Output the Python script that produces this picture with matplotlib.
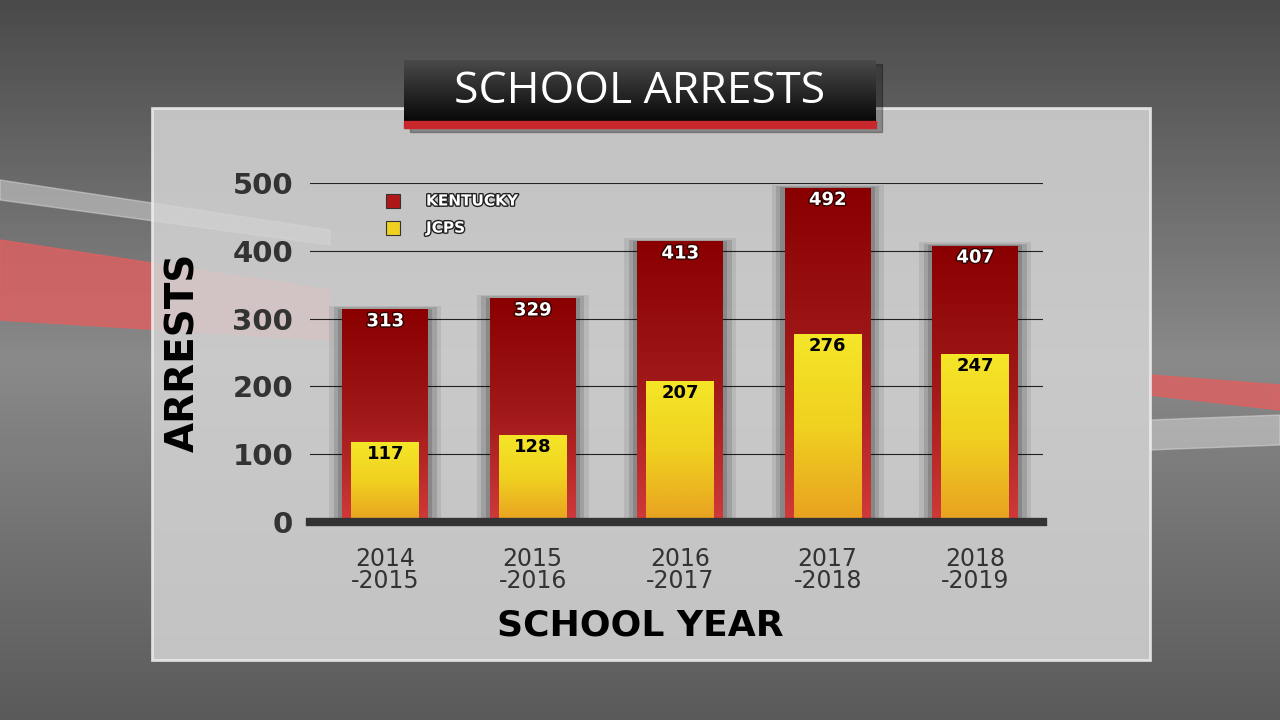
import numpy as np
import matplotlib.pyplot as plt
from matplotlib.patches import Rectangle, Polygon
from matplotlib.colors import LinearSegmentedColormap
import matplotlib.patheffects as pe

years = ["2014\n-2015", "2015\n-2016", "2016\n-2017", "2017\n-2018", "2018\n-2019"]
kentucky = [313, 329, 413, 492, 407]
jcps = [117, 128, 207, 276, 247]
yticks = [0, 100, 200, 300, 400, 500]

fig = plt.figure(figsize=(12.8, 7.2), dpi=100)

# background
bg = fig.add_axes([0, 0, 1, 1])
bg.set_xlim(0, 1280); bg.set_ylim(720, 0); bg.axis("off")
grad = np.linspace(0, 1, 256).reshape(-1, 1)
bg.imshow(grad, extent=[0, 1280, 720, 0], cmap=LinearSegmentedColormap.from_list("b", ["#4a4a4a", "#8a8a8a", "#5a5a5a"]), aspect="auto")
bg.add_patch(Polygon([[0, 240], [330, 290], [330, 340], [0, 320]], color="#e06060", alpha=0.8))
bg.add_patch(Polygon([[1150, 375], [1280, 385], [1280, 410], [1150, 395]], color="#e06060", alpha=0.8))
bg.add_patch(Polygon([[0, 180], [330, 230], [330, 245], [0, 200]], color="#dddddd", alpha=0.5))
bg.add_patch(Polygon([[1150, 420], [1280, 415], [1280, 445], [1150, 450]], color="#dddddd", alpha=0.5))
# panel
bg.add_patch(Rectangle((152, 108), 998, 552, facecolor="#d4d4d4", edgecolor="#eeeeee", lw=2, alpha=0.86))
# title box
bg.add_patch(Rectangle((410, 64), 472, 68, color="black", alpha=0.3))
bg.imshow(grad, extent=[404, 876, 121, 60], cmap=LinearSegmentedColormap.from_list("t", ["#4a4a4a", "#080808"]), aspect="auto", zorder=3)
bg.add_patch(Rectangle((404, 121), 472, 7, color="#c8282c", zorder=4))
bg.text(640, 92, "SCHOOL ARRESTS", color="white", fontsize=32, ha="center", va="center", family="Open Sans", zorder=5)
bg.set_xlim(0, 1280); bg.set_ylim(720, 0)

ax = fig.add_axes([310 / 1280, (720 - 522) / 720, 733 / 1280, 339 / 720])
ax.patch.set_alpha(0)
x = np.arange(len(years))
for s in ax.spines.values():
    s.set_visible(False)
for t in yticks[1:]:
    ax.axhline(t, color="#222222", lw=0.8, zorder=1)
ax.axhline(0, color="#333333", lw=6, zorder=6, clip_on=False)

red = LinearSegmentedColormap.from_list("r", ["#d03a3a", "#a01818", "#8a0000"])
yel = LinearSegmentedColormap.from_list("y", ["#e8a020", "#f0d020", "#f5e628"])
stroke_r = [pe.withStroke(linewidth=2, foreground="#330000")]
kw, jw = 0.58, 0.46
for xi, k, j in zip(x, kentucky, jcps):
    for d, a in [(0.09, 0.08), (0.06, 0.12), (0.03, 0.15)]:
        ax.add_patch(Rectangle((xi - kw / 2 - d, 0), kw + 2 * d, k + d * 60, color="black", alpha=a, zorder=2, lw=0))
    ax.imshow(grad[::-1], extent=[xi - kw / 2, xi + kw / 2, 0, k], cmap=red, aspect="auto", zorder=3)
    ax.imshow(grad[::-1], extent=[xi - jw / 2, xi + jw / 2, 0, j], cmap=yel, aspect="auto", zorder=4)
    ax.text(xi, k - 17, str(k), color="white", fontsize=13, fontweight="bold", ha="center", va="center", zorder=5,
            path_effects=stroke_r)
    ax.text(xi, j - 17, str(j), color="black", fontsize=13, fontweight="bold", ha="center", va="center", zorder=5)
ax.set_xlim(-0.51, 4.46); ax.set_ylim(0, 500)

ax.set_yticks(yticks)
ax.set_yticklabels([str(t) for t in yticks], fontsize=21, fontweight="bold", color="#333333")
ax.set_xticks(x)
ax.set_xticklabels(years, fontsize=17, color="#333333", linespacing=0.9)
ax.tick_params(length=0, pad=12)
ax.tick_params(axis="x", pad=18)
ax.set_ylabel("ARRESTS", fontsize=28, fontweight="bold", color="black", labelpad=22)

fig.text(640 / 1280, 1 - 625 / 720, "SCHOOL YEAR", fontsize=26, fontweight="bold", ha="center", va="center")

# legend
for yy, c, lab in [(201, "#b01818", "KENTUCKY"), (228, "#f0d020", "JCPS")]:
    bg.add_patch(Rectangle((386, yy - 7), 14, 14, facecolor=c, edgecolor="#333333", lw=0.8, zorder=6))
    bg.text(426, yy, lab, color="white", fontsize=11, fontweight="bold", va="center", zorder=6,
            path_effects=[pe.withStroke(linewidth=2, foreground="#222222")])

fig.savefig("out.png", dpi=100)
